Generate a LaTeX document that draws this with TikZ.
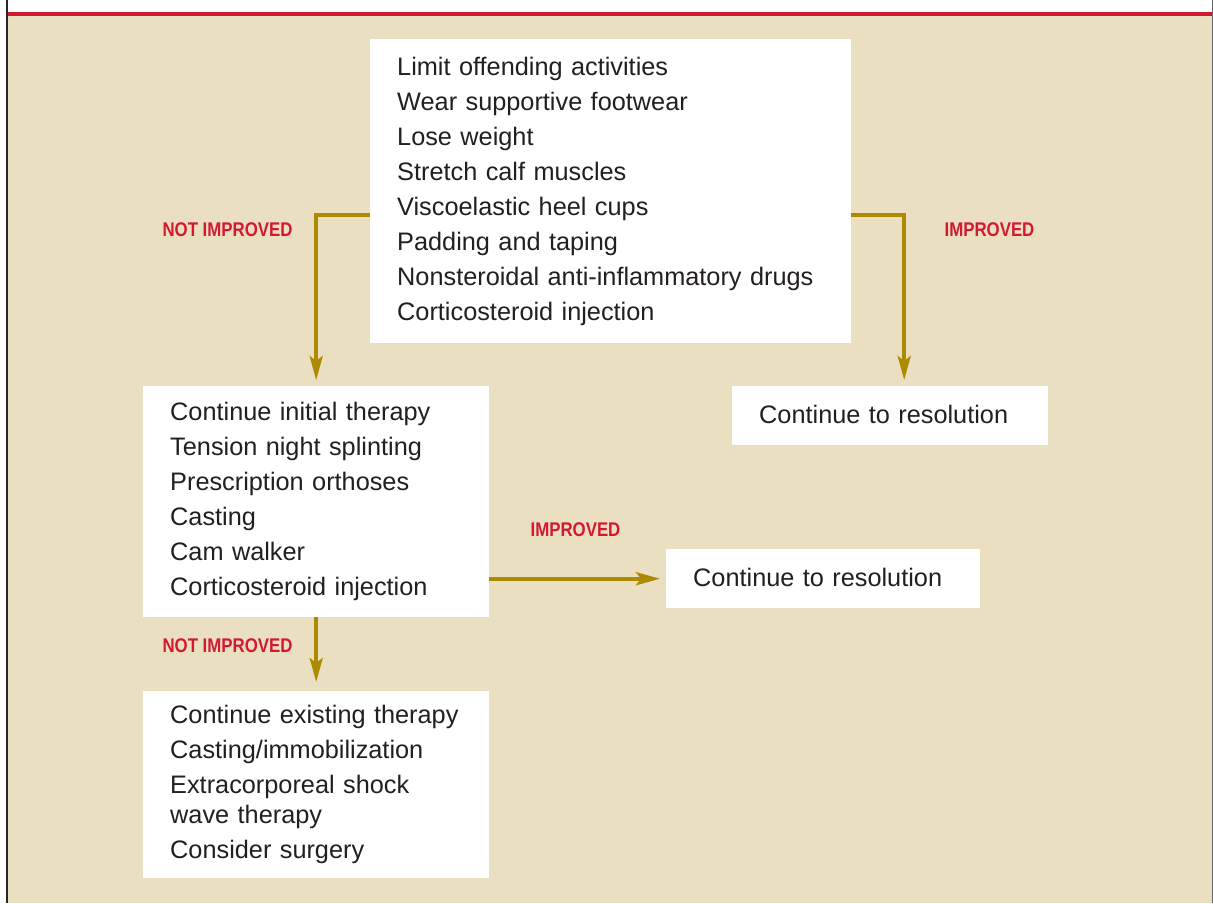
\documentclass[tikz,border=0pt]{standalone}
\usepackage{fontspec}
\setmainfont{Liberation Sans}
\newfontfamily\lblfont{Liberation Sans}[FakeStretch=0.85]
\usetikzlibrary{arrows.meta,calc}
\definecolor{beige}{RGB}{235,223,194}
\definecolor{hdrred}{RGB}{210,25,50}
\definecolor{gold}{RGB}{173,139,0}
\definecolor{txt}{RGB}{35,31,32}
\tikzset{
  box/.style={fill=white, anchor=north west, inner xsep=27pt, inner ysep=0pt, align=left, text=txt,
    font=\fontsize{25.3}{35}\selectfont},
  conn/.style={draw=gold, line width=3.7pt, -{Stealth[length=24pt,width=13pt,inset=5pt]}},
  lbl/.style={text=hdrred, font=\lblfont\bfseries\fontsize{19.8}{20}\selectfont, inner sep=0pt}
}
\begin{document}
\begin{tikzpicture}[x=1pt,y=-1pt]
\useasboundingbox (0,0) rectangle (1213,903);
\fill[white] (0,0) rectangle (1213,903);
\fill[beige] (8,16) rectangle (1212,903);
\fill[hdrred] (8,12) rectangle (1212,16);
\fill[black!85] (6,0) rectangle (8,903);
\fill[black!60] (1212,0) rectangle (1213,903);

\node[box, text width=427pt, minimum height=304pt] (top) at (370,39)
  {Limit offending activities\\Wear supportive footwear\\Lose weight\\Stretch calf muscles\\Viscoelastic heel cups\\Padding and taping\\Nonsteroidal anti-inflammatory drugs\\Corticosteroid injection};

\node[box, text width=292pt, minimum height=231pt] (b2) at (143,386)
  {Continue initial therapy\\Tension night splinting\\Prescription orthoses\\Casting\\Cam walker\\Corticosteroid injection};

\node[box, text width=262pt, minimum height=59pt] (r1) at (732,386)
  {\raisebox{2pt}{Continue to resolution}};

\node[box, text width=260pt, minimum height=59pt] (r2) at (666,549)
  {\raisebox{2pt}{Continue to resolution}};

\node[box, text width=292pt, minimum height=187pt] (b3) at (143,691)
  {Continue existing therapy\\Casting/immobilization\\Extracorporeal shock\\[-5pt]wave therapy\\Consider surgery};

\draw[conn, shorten >=6pt] ($(top.north west)+(0,176)$) -| (b2.north);
\draw[conn, shorten >=6pt] ($(top.north east)+(0,176)$) -| ($(r1.north)+(14,0)$);
\draw[conn, shorten >=6pt] (r2.west -| b2.east) -- (r2.west);
\draw[conn, shorten >=9pt] (b2.south) -- (b3.north);

\node[lbl] (l1) at (227.5,230) {NOT IMPROVED};
\node[lbl] (l2) at (989.5,230) {IMPROVED};
\node[lbl] (l3) at (575.5,530) {IMPROVED};
\node[lbl] (l4) at (227.5,646) {NOT IMPROVED};
\end{tikzpicture}
\end{document}
